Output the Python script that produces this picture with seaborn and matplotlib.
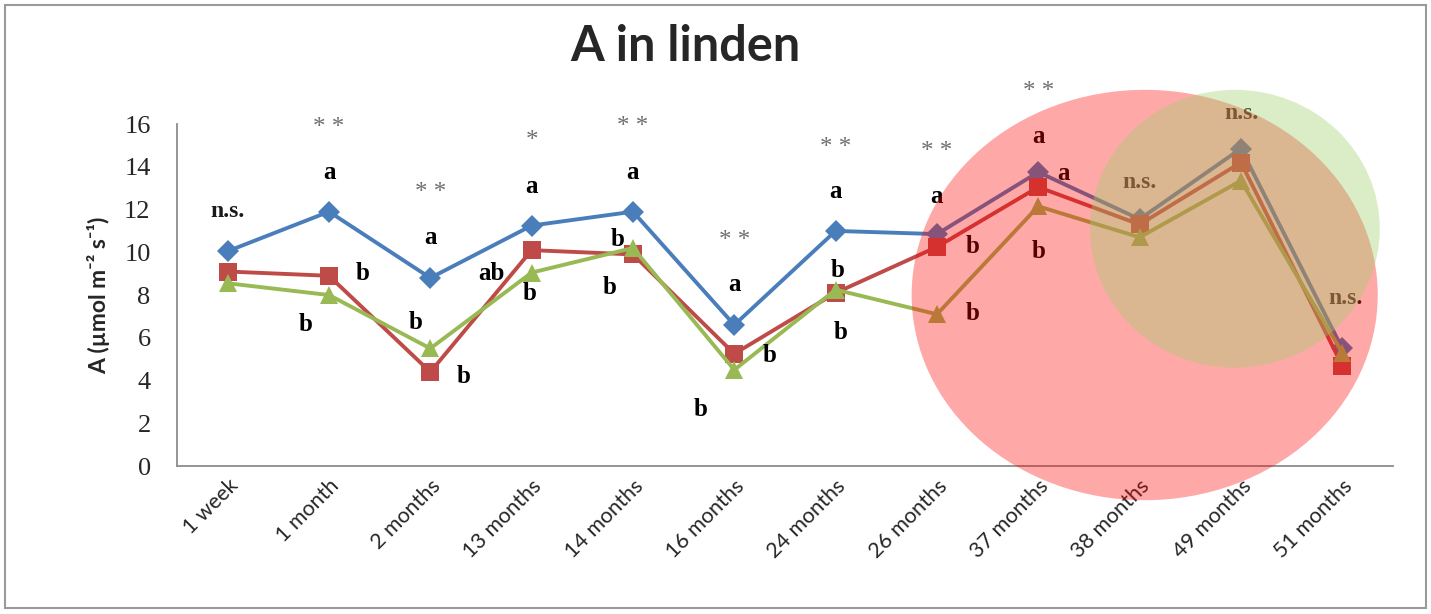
import numpy as np
import pandas as pd
import matplotlib
matplotlib.use("Agg")
import matplotlib.pyplot as plt
from matplotlib.patches import Ellipse, Rectangle
import seaborn as sns

# Sampling times and net assimilation values for the three treatments
times = ["1 week", "1 month", "2 months", "13 months", "14 months", "16 months",
         "24 months", "26 months", "37 months", "38 months", "49 months", "51 months"]
series_1 = [10.05, 11.9, 8.8, 11.25, 11.9, 6.6, 11.0, 10.85, 13.75, 11.55, 14.85, 5.5]
series_2 = [9.1, 8.9, 4.4, 10.1, 9.9, 5.25, 8.1, 10.25, 13.05, 11.3, 14.2, 4.7]
series_3 = [8.55, 8.0, 5.5, 9.05, 10.2, 4.5, 8.25, 7.1, 12.15, 10.7, 13.35, 5.3]
y_ticks = [0, 2, 4, 6, 8, 10, 12, 14, 16]

# Significance marks above each time point and letter groupings
stars = [(1, 15.8, "* *"), (2, 12.75, "* *"), (3, 15.2, "*"), (4, 15.85, "* *"),
         (5, 10.55, "* *"), (6, 14.9, "* *"), (7, 14.7, "* *"), (8, 17.5, "* *")]
letters = [(1, 13.75, "a"), (2, 10.7, "a"), (3, 13.1, "a"), (4, 13.75, "a"),
           (5, 8.5, "a"), (6, 12.85, "a"), (7, 12.6, "a"), (8, 15.4, "a"),
           (8.25, 13.7, "a"),
           (1.33, 9.0, "b"), (0.77, 6.6, "b"), (1.85, 6.7, "b"), (2.33, 4.2, "b"),
           (2.6, 9.0, "ab"), (2.98, 8.05, "b"), (3.85, 10.6, "b"), (3.77, 8.35, "b"),
           (5.35, 5.15, "b"), (4.67, 2.65, "b"), (6.02, 9.15, "b"), (6.05, 6.25, "b"),
           (7.35, 10.25, "b"), (7.35, 7.15, "b"), (8.0, 10.05, "b")]
not_sig = [(0, 11.9), (9, 13.25), (10, 16.5), (11.03, 7.85)]

names = ["S1", "S2", "S3"]
df = pd.DataFrame({
    "time": times * 3,
    "A": series_1 + series_2 + series_3,
    "group": [n for n in names for _ in times],
})

sns.set_theme(style="white")
plt.rcParams["font.family"] = ["Liberation Serif", "DejaVu Sans"]

fig = plt.figure(figsize=(14.31, 6.14), dpi=100)
ax = fig.add_axes([0.1237, 0.241, 0.8497, 0.557])

palette = {"S1": "#4A7EBB", "S2": "#BE4B48", "S3": "#98B954"}
markers = {"S1": "D", "S2": "s", "S3": "^"}
sns.lineplot(data=df, x="time", y="A", hue="group", style="group",
             palette=palette, markers=markers, dashes=False, sort=False,
             linewidth=2.8, markersize=13, markeredgewidth=0, legend=False, ax=ax)
# diamonds slightly smaller than the other markers
for line in ax.get_lines():
    if line.get_marker() == "D":
        line.set_markersize(11)

ax.set_xlim(-0.5, len(times) - 0.5)
ax.set_ylim(0, 16)
ax.set_yticks(y_ticks)
ax.set_yticklabels([str(t) for t in y_ticks], fontsize=19, family="Liberation Serif")
ax.set_xticks(range(len(times)))
ax.set_xticklabels(times, rotation=45, ha="right", rotation_mode="anchor",
                   fontsize=15.5, family="Lato")
ax.tick_params(axis="y", length=0, pad=19)
ax.tick_params(axis="x", length=0, pad=7)
ax.set_xlabel("")
ax.set_ylabel("A (µmol m⁻² s⁻¹)", fontsize=16.5, fontweight="bold",
              family=["Lato", "DejaVu Sans"], labelpad=10)
for side in ["top", "right"]:
    ax.spines[side].set_visible(False)
for side in ["left", "bottom"]:
    ax.spines[side].set_color("#8c8c8c")
    ax.spines[side].set_linewidth(1.3)

for x, y, s in stars:
    ax.text(x, y, s, ha="center", va="center", fontsize=18, color="#6e6e6e",
            family="Liberation Serif", zorder=4)
for x, y, s in letters:
    ax.text(x, y, s, ha="center", va="center", fontsize=18, fontweight="bold",
            color="black", family="Liberation Serif", zorder=4)
for x, y in not_sig:
    ax.text(x, y, "n.s.", ha="center", va="center", fontsize=17, fontweight="bold",
            color="#1a1a1a", family="Liberation Serif", zorder=4)

# Translucent highlight regions over the later sampling dates
ax.add_patch(Ellipse((9.05, 8.0), 4.6, 19.2, facecolor=(1.0, 0.0, 0.0, 0.34),
                     edgecolor="none", clip_on=False, zorder=6))
ax.add_patch(Ellipse((9.94, 11.1), 2.86, 13.0, facecolor=(0.62, 0.82, 0.43, 0.38),
                     edgecolor="none", clip_on=False, zorder=7))

fig.text(0.479, 0.925, "A in linden", ha="center", va="center", fontsize=35,
         fontweight="bold", family="Lato")

fig.add_artist(Rectangle((5 / 1431, 6 / 614), 1421 / 1431, 603 / 614,
                         transform=fig.transFigure, fill=False,
                         edgecolor="#9a9a9a", linewidth=1.5))

fig.savefig("out.png", dpi=100)
